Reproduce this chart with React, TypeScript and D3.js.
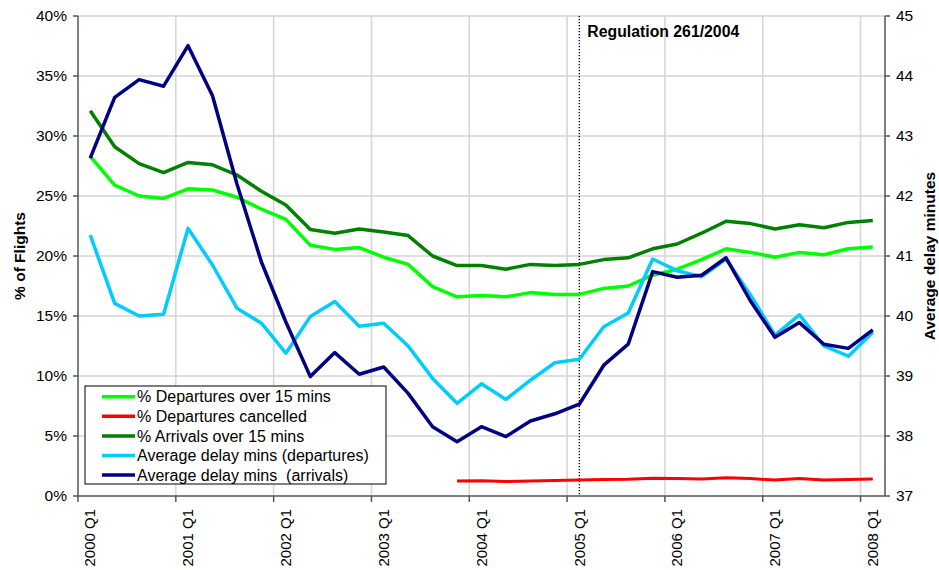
import React from "react";
import * as d3 from "d3";

const categories = [
  "2000 Q1","2000 Q2","2000 Q3","2000 Q4",
  "2001 Q1","2001 Q2","2001 Q3","2001 Q4",
  "2002 Q1","2002 Q2","2002 Q3","2002 Q4",
  "2003 Q1","2003 Q2","2003 Q3","2003 Q4",
  "2004 Q1","2004 Q2","2004 Q3","2004 Q4",
  "2005 Q1","2005 Q2","2005 Q3","2005 Q4",
  "2006 Q1","2006 Q2","2006 Q3","2006 Q4",
  "2007 Q1","2007 Q2","2007 Q3","2007 Q4",
  "2008 Q1",
];

// left axis (% of flights)
const depOver15 = [28.3, 25.9, 25.0, 24.8, 25.6, 25.5, 24.9, 23.9, 23.05, 20.9, 20.55, 20.7, 19.9, 19.3, 17.45, 16.6, 16.7, 16.6, 16.95, 16.8, 16.8, 17.3, 17.5, 18.4, 18.9, 19.7, 20.6, 20.3, 19.9, 20.3, 20.1, 20.6, 20.75];
const depCancelled: (number | null)[] = [null, null, null, null, null, null, null, null, null, null, null, null, null, null, null, 1.25, 1.27, 1.2, 1.25, 1.3, 1.33, 1.38, 1.4, 1.48, 1.45, 1.42, 1.52, 1.45, 1.33, 1.45, 1.33, 1.38, 1.42];
const arrOver15 = [32.1, 29.1, 27.7, 26.95, 27.8, 27.6, 26.75, 25.4, 24.25, 22.2, 21.9, 22.25, 22.0, 21.7, 20.0, 19.2, 19.2, 18.9, 19.3, 19.2, 19.3, 19.7, 19.85, 20.6, 21.0, 21.9, 22.9, 22.7, 22.25, 22.6, 22.35, 22.8, 22.95];
// right axis (minutes)
const avgDelayDep = [41.35, 40.21, 40.0, 40.03, 41.46, 40.85, 40.13, 39.88, 39.38, 39.99, 40.24, 39.83, 39.88, 39.5, 38.96, 38.545, 38.87, 38.61, 38.93, 39.22, 39.28, 39.82, 40.05, 40.95, 40.755, 40.655, 40.95, 40.35, 39.68, 40.02, 39.5, 39.33, 39.73];
const avgDelayArr = [42.63, 43.645, 43.94, 43.83, 44.505, 43.67, 42.2, 40.9, 39.9, 38.99, 39.39, 39.03, 39.15, 38.71, 38.155, 37.905, 38.155, 37.99, 38.25, 38.37, 38.53, 39.18, 39.53, 40.74, 40.645, 40.68, 40.97, 40.25, 39.645, 39.89, 39.53, 39.46, 39.77];

const leftTicks = [0, 5, 10, 15, 20, 25, 30, 35, 40];
const rightTicks = [37, 38, 39, 40, 41, 42, 43, 44, 45];
const labelEvery = 4;
const regulationCategory = "2005 Q1";
const regulationText = "Regulation 261/2004";

const seriesDefs = [
  { name: "% Departures over 15 mins", values: depOver15 as (number | null)[], axis: "left", color: "#00FF00", width: 3.5 },
  { name: "% Departures cancelled", values: depCancelled, axis: "left", color: "#FF0000", width: 3 },
  { name: "% Arrivals over 15 mins", values: arrOver15 as (number | null)[], axis: "left", color: "#008000", width: 3.5 },
  { name: "Average delay mins (departures)", values: avgDelayDep as (number | null)[], axis: "right", color: "#00CCFF", width: 3.5 },
  { name: "Average delay mins  (arrivals)", values: avgDelayArr as (number | null)[], axis: "right", color: "#000080", width: 3.5 },
];

const FONT = "'Liberation Sans', Arial, sans-serif";

export default function App() {
  const W = 939, H = 570;
  const left = 78, right = 885, top = 16, bottom = 496;
  const x = d3.scaleBand<string>().domain(categories).range([left, right]).padding(0);
  const bw = x.bandwidth();
  const cx = (c: string) => (x(c) as number) + bw / 2;
  const yL = d3.scaleLinear().domain([0, 40]).range([bottom, top]);
  const yR = d3.scaleLinear().domain([37, 45]).range([bottom, top]);

  const yearCats = categories.filter((_, i) => i % labelEvery === 0);
  const gridColor = "#d4d4d4";
  const axisColor = "#555";

  const lineFor = (vals: (number | null)[], axis: string) => {
    const sc = axis === "left" ? yL : yR;
    return d3
      .line<number | null>()
      .defined((d) => d !== null)
      .x((_, i) => cx(categories[i]))
      .y((d) => sc(d as number))(vals) as string;
  };

  const regX = cx(regulationCategory);

  return (
    <svg width={W} height={H} style={{ position: "absolute", left: 0, top: 0, background: "#fff" }} fontFamily={FONT}>
      <rect x={0} y={0} width={W} height={H} fill="#fff" />
      {leftTicks.filter((t) => t > 0).map((t) => (
        <line key={"hg" + t} x1={left} x2={right} y1={yL(t)} y2={yL(t)} stroke={gridColor} strokeWidth={1.5} />
      ))}
      {yearCats.slice(1).map((c) => (
        <line key={"vg" + c} x1={x(c) as number} x2={x(c) as number} y1={top} y2={bottom} stroke={gridColor} strokeWidth={1.5} />
      ))}
      <line x1={regX} x2={regX} y1={top} y2={bottom} stroke="#000" strokeWidth={1.3} strokeDasharray="1.3,1.7" />
      <text x={regX + 8} y={37} fontSize={15.8} fontWeight="bold" fill="#000">{regulationText}</text>

      <line x1={left} x2={left} y1={top} y2={bottom} stroke={axisColor} strokeWidth={1.5} />
      <line x1={right} x2={right} y1={top} y2={bottom} stroke={axisColor} strokeWidth={1.5} />
      <line x1={left} x2={right} y1={bottom} y2={bottom} stroke={axisColor} strokeWidth={1.5} />
      {leftTicks.map((t) => (
        <g key={"lt" + t}>
          <line x1={left - 5} x2={left} y1={yL(t)} y2={yL(t)} stroke={axisColor} strokeWidth={1.5} />
          <text x={left - 11} y={yL(t)} dy="0.35em" textAnchor="end" fontSize={15.5} fill="#000">{t + "%"}</text>
        </g>
      ))}
      {rightTicks.map((t) => (
        <g key={"rt" + t}>
          <line x1={right} x2={right + 5} y1={yR(t)} y2={yR(t)} stroke={axisColor} strokeWidth={1.5} />
          <text x={right + 11} y={yR(t)} dy="0.35em" textAnchor="start" fontSize={15.5} fill="#000">{t}</text>
        </g>
      ))}
      {yearCats.map((c) => (
        <g key={"xt" + c}>
          <line x1={x(c) as number} x2={x(c) as number} y1={bottom} y2={bottom + 6} stroke={axisColor} strokeWidth={1.5} />
          <text transform={`translate(${cx(c)},${bottom + 13}) rotate(-90)`} dy="0.35em" textAnchor="end" fontSize={15} fill="#000">{c}</text>
        </g>
      ))}
      <text transform={`translate(20,${(top + bottom) / 2}) rotate(-90)`} textAnchor="middle" dy="0.35em" fontSize={15.5} fontWeight="bold" fill="#000">% of Flights</text>
      <text transform={`translate(930,${(top + bottom) / 2}) rotate(-90)`} textAnchor="middle" dy="0.35em" fontSize={15.5} fontWeight="bold" fill="#000">Average delay minutes</text>

      {seriesDefs.map((s) => (
        <path key={s.name} d={lineFor(s.values, s.axis)} fill="none" stroke={s.color} strokeWidth={s.width} strokeLinejoin="round" />
      ))}

      <rect x={85} y={386} width={301} height={98} fill="#fff" stroke="#000" strokeWidth={1} />
      {seriesDefs.map((s, i) => (
        <g key={"lg" + s.name} transform={`translate(0,${396.7 + i * 19.6})`}>
          <line x1={102} x2={135} y1={0} y2={0} stroke={s.color} strokeWidth={3.5} />
          <text x={137} y={0} dy="0.35em" fontSize={16} fill="#000" style={{ whiteSpace: "pre" }}>{s.name}</text>
        </g>
      ))}
    </svg>
  );
}
